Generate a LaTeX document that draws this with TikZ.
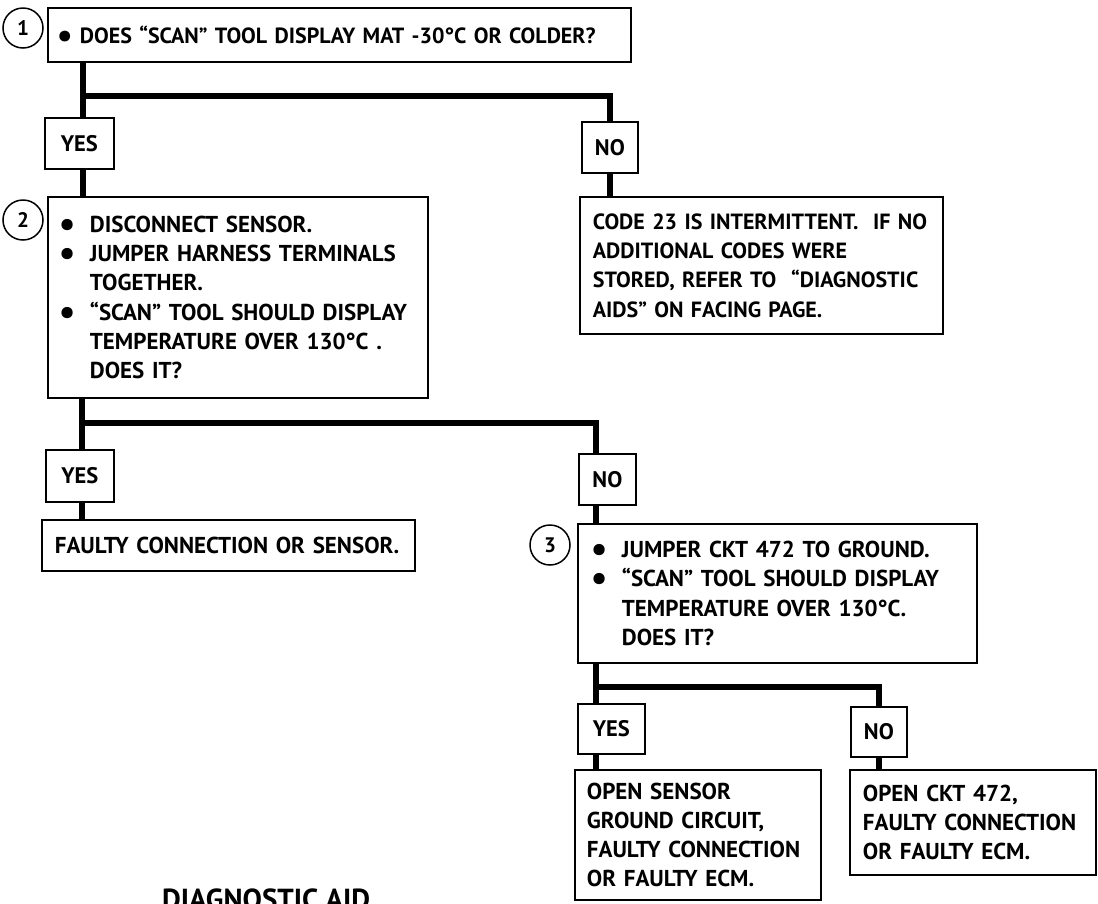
\documentclass[tikz,border=0pt]{standalone}
\usepackage{fontspec}
\setmainfont{PT Sans}
\usepackage{graphicx}
\usepackage{tikz}
\usetikzlibrary{calc, positioning}
\tikzset{
    box/.style={draw, line width=1.8pt, anchor=north west, align=left, inner ysep=0pt,
        font=\bfseries\fontsize{23}{29.3}\selectfont},
    answer/.style={draw, line width=1.8pt, anchor=north west, inner sep=0pt,
        font=\bfseries\fontsize{22.5}{25}\selectfont},
    num/.style={draw, circle, line width=1.5pt, minimum size=40pt, inner sep=0pt,
        font=\bfseries\fontsize{21}{24}\selectfont},
    trunk/.style={line width=6.5pt}
}
\newcommand{\bigdot}{\smash{\raisebox{-4pt}{\scalebox{1.6}{•}}}}
\newcommand{\bul}{\makebox[31pt][l]{\bigdot}}
\newcommand{\answer}[5]{
    \node[answer, minimum width=#3pt, minimum height=#4pt] (#1) at (#2) {#5};
}

\begin{document}
\begin{tikzpicture}[x=1pt, y=-1pt]
    \useasboundingbox (0,0) rectangle (1098,903);
    % step 1
    \node[box, text width=565pt, inner xsep=9pt, minimum height=54pt,
        font=\bfseries\fontsize{22}{29.3}\selectfont] (q1) at (47,7)
        {\makebox[23pt][l]{\bigdot}DOES “SCAN” TOOL DISPLAY MAT -30°C OR COLDER?};
    \node[num] (n1) at (23,28) {1};
    \answer{yes1}{44,117}{69}{51}{YES}
    \answer{no1}{581,121}{56}{51}{NO}
    \node[box, text width=337pt, inner xsep=13pt, minimum height=137pt,
        font=\bfseries\fontsize{22}{29.3}\selectfont] (code) at (579,196)
        {CODE 23 IS INTERMITTENT.\ \ IF NO\\ADDITIONAL CODES WERE\\STORED, REFER TO\ \ “DIAGNOSTIC\\AIDS” ON FACING PAGE.};
    % step 2
    \node[box, text width=358pt, inner xsep=11pt, minimum height=201pt] (q2) at (47,196)
        {\bul DISCONNECT SENSOR.\\
         \bul JUMPER HARNESS TERMINALS\\
         \hspace*{31pt}TOGETHER.\\
         \bul “SCAN” TOOL SHOULD DISPLAY\\
         \hspace*{31pt}TEMPERATURE OVER 130°C .\\
         \hspace*{31pt}DOES IT?};
    \node[num] (n2) at (23,220) {2};
    \answer{yes2}{45,449}{68}{52}{YES}
    \answer{no2}{578,453}{57}{51}{NO}
    \node[box, text width=347pt, inner xsep=13pt, minimum height=51pt] (faulty) at (41,519)
        {FAULTY CONNECTION OR SENSOR.};
    % step 3
    \node[box, text width=373pt, inner xsep=13pt, minimum height=139pt] (q3) at (577,523)
        {\bul JUMPER CKT 472 TO GROUND.\\
         \bul “SCAN” TOOL SHOULD DISPLAY\\
         \hspace*{31pt}TEMPERATURE OVER 130°C.\\
         \hspace*{31pt}DOES IT?};
    \node[num] (n3) at (550,545) {3};
    \answer{yes3}{577,703}{67}{50}{YES}
    \answer{no3}{850,706}{56}{50}{NO}
    \node[box, text width=222pt, inner xsep=12pt, minimum height=130pt] (opengnd) at (574,769)
        {OPEN SENSOR\\GROUND CIRCUIT,\\FAULTY CONNECTION\\OR FAULTY ECM.};
    \node[box, text width=220pt, inner xsep=13pt, minimum height=105pt] (openckt) at (849,769)
        {OPEN CKT 472,\\FAULTY CONNECTION\\OR FAULTY ECM.};
    \node[anchor=base west, inner sep=0pt, font=\bfseries\fontsize{29}{32}\selectfont] (title) at (162,909)
        {DIAGNOSTIC AID};
    % connectors
    \coordinate (s1) at (83,96);
    \coordinate (s2) at (82,423);
    \coordinate (s3) at (596,687);
    \draw[trunk] (q1.south -| s1) -- (s1) -- (yes1.north -| s1);
    \draw[trunk] (s1) -| (no1.north);
    \draw[trunk] (yes1.south -| s1) -- (q2.north -| s1);
    \draw[trunk] (no1.south) -- (no1.south |- code.north);
    \draw[trunk] (q2.south -| s2) -- (s2) -- (yes2.north -| s2);
    \draw[trunk] (s2) -| (s3 |- no2.north);
    \draw[trunk] (yes2.south -| s2) -- (faulty.north -| s2);
    \draw[trunk] (s3 |- no2.south) -- (s3 |- q3.north);
    \draw[trunk] (q3.south -| s3) -- (s3) -- (yes3.north -| s3);
    \draw[trunk] (s3) -| (no3.north);
    \draw[trunk] (yes3.south -| s3) -- (opengnd.north -| s3);
    \draw[trunk] (no3.south) -- (no3.south |- openckt.north);
\end{tikzpicture}
\end{document}
